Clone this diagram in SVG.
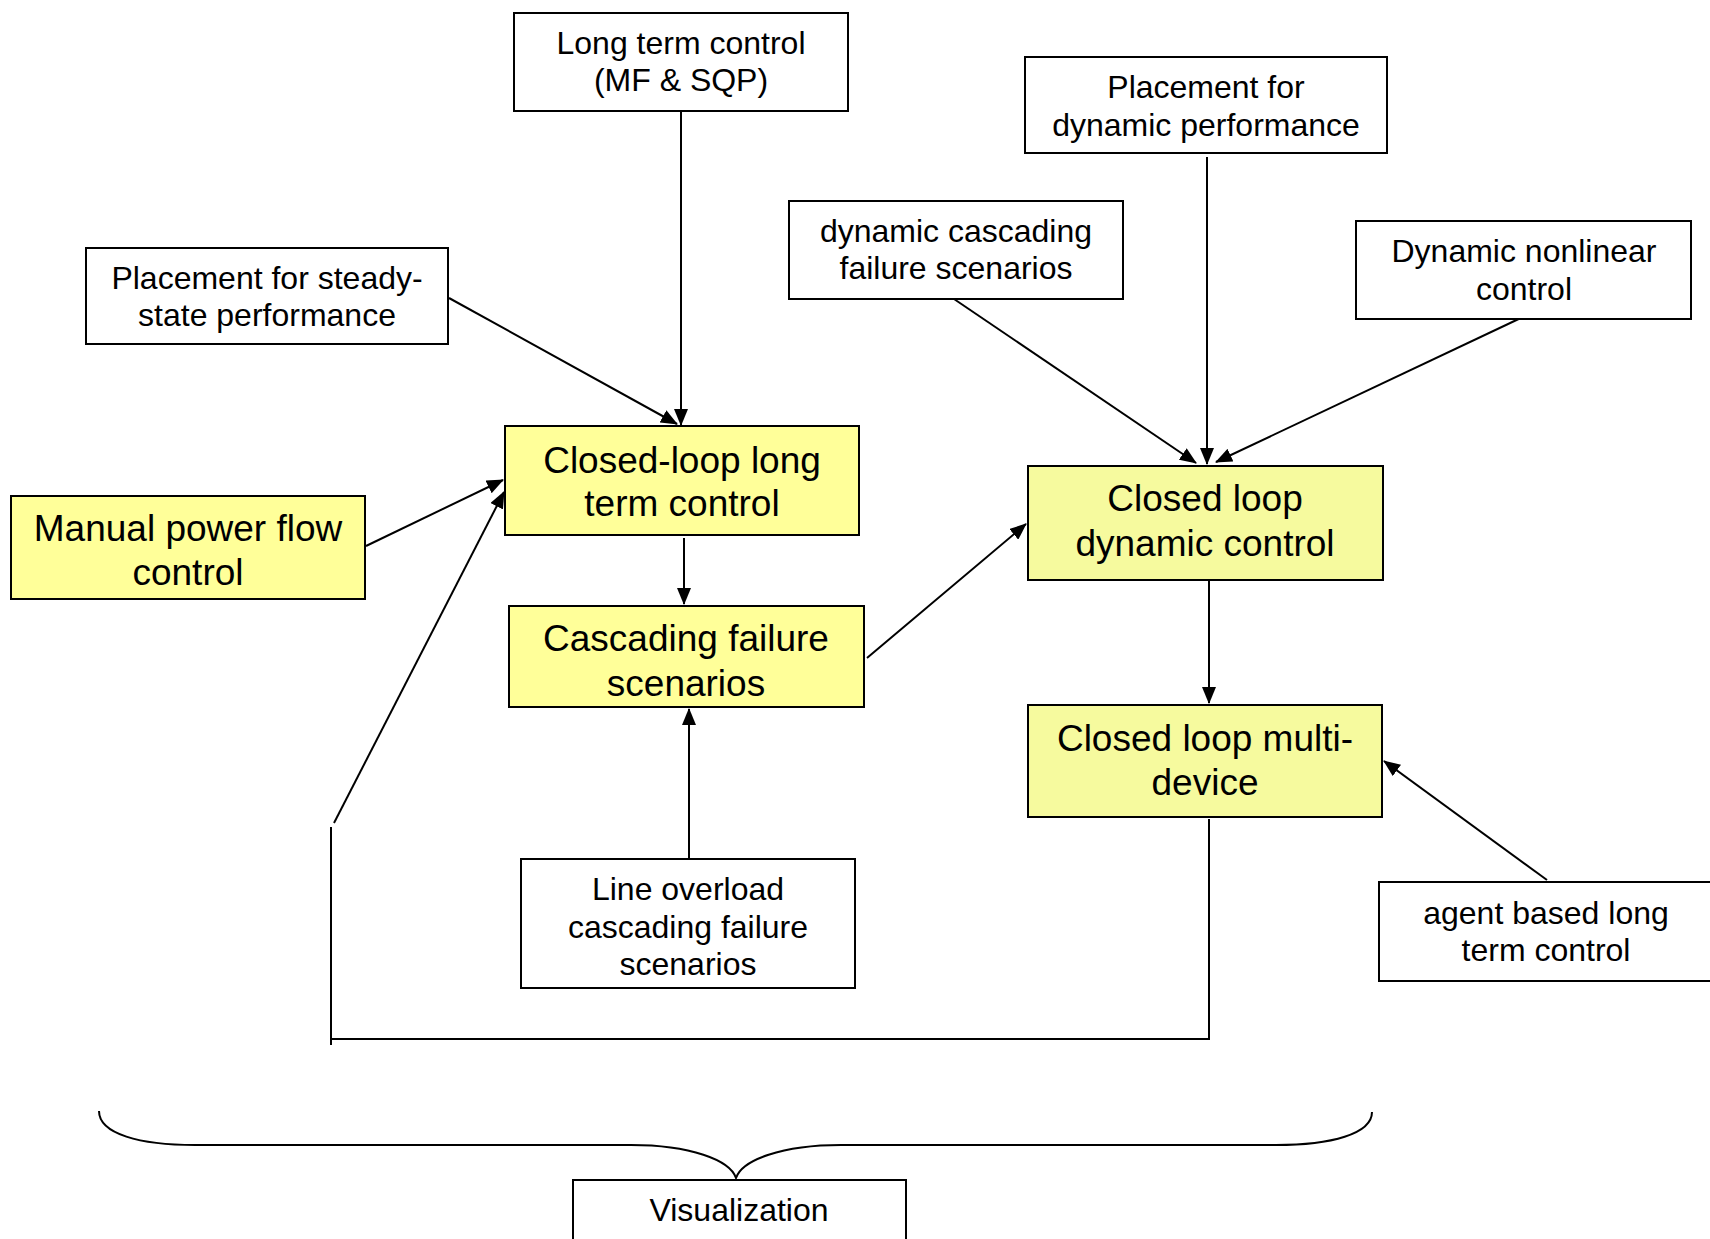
<svg xmlns="http://www.w3.org/2000/svg" width="1710" height="1239" viewBox="0 0 1710 1239">
<style>
.box{fill:#ffffff;stroke:#000;stroke-width:2}
.ybox{fill:#ffff99;stroke:#000;stroke-width:2}
.gbox{fill:#f6fa9e;stroke:#000;stroke-width:2}
.t{font-family:"Liberation Sans",Arial,sans-serif;font-size:32px;fill:#000;text-anchor:middle}
.ty{font-family:"Liberation Sans",Arial,sans-serif;font-size:37px;fill:#000;text-anchor:middle}
.c{stroke:#000;stroke-width:2;fill:none}
.a{stroke:#000;stroke-width:2;fill:none;marker-end:url(#ah)}
</style>
<defs>
<marker id="ah" markerUnits="userSpaceOnUse" markerWidth="18" markerHeight="14" refX="16" refY="7" orient="auto">
<path d="M0,0 L17,7 L0,14 z" fill="#000"/>
</marker>
</defs>
<rect width="1710" height="1239" fill="#fff"/>

<g id="connectors">
<line class="a" x1="681" y1="111" x2="681" y2="425"/>
<line class="a" x1="449" y1="298" x2="677" y2="424"/>
<line class="a" x1="366" y1="546" x2="503" y2="480"/>
<line class="a" x1="334" y1="823" x2="504" y2="492"/>
<line class="c" x1="331" y1="827" x2="331" y2="1045"/>
<line class="c" x1="331" y1="1039" x2="1209" y2="1039"/>
<line class="c" x1="1209" y1="819" x2="1209" y2="1040"/>
<line class="a" x1="684" y1="538" x2="684" y2="604"/>
<line class="a" x1="689" y1="858" x2="689" y2="709"/>
<line class="a" x1="867" y1="658" x2="1026" y2="524"/>
<line class="a" x1="1207" y1="157" x2="1207" y2="464"/>
<line class="a" x1="954" y1="299" x2="1196" y2="463"/>
<line class="a" x1="1525" y1="316" x2="1216" y2="462"/>
<line class="a" x1="1209" y1="581" x2="1209" y2="703"/>
<line class="a" x1="1547" y1="880" x2="1384" y2="761"/>
<path class="c" d="M99,1111 C99,1134 140,1145 195,1145 L631,1145 C690,1145 730,1160 736,1178 C742,1160 782,1145 841,1145 L1276,1145 C1331,1145 1372,1134 1372,1112"/>
</g>

<g id="long-term-control">
<rect class="box" x="514" y="13" width="334" height="98"/>
<text class="t" x="681" y="54">Long term control</text>
<text class="t" x="681" y="91">(MF &amp; SQP)</text>
</g>
<g id="placement-steady">
<rect class="box" x="86" y="248" width="362" height="96"/>
<text class="t" x="267" y="289">Placement for steady-</text>
<text class="t" x="267" y="326">state performance</text>
</g>
<g id="closed-loop-long">
<rect class="ybox" x="505" y="426" width="354" height="109"/>
<text class="ty" x="682" y="473">Closed-loop long</text>
<text class="ty" x="682" y="516">term control</text>
</g>
<g id="manual-power-flow">
<rect class="ybox" x="11" y="496" width="354" height="103"/>
<text class="ty" x="188" y="541">Manual power flow</text>
<text class="ty" x="188" y="585">control</text>
</g>
<g id="cascading-failure">
<rect class="ybox" x="509" y="606" width="355" height="101"/>
<text class="ty" x="686" y="651">Cascading failure</text>
<text class="ty" x="686" y="696">scenarios</text>
</g>
<g id="line-overload">
<rect class="box" x="521" y="859" width="334" height="129"/>
<text class="t" x="688" y="900">Line overload</text>
<text class="t" x="688" y="938">cascading failure</text>
<text class="t" x="688" y="975">scenarios</text>
</g>
<g id="placement-dynamic">
<rect class="box" x="1025" y="57" width="362" height="96"/>
<text class="t" x="1206" y="98">Placement for</text>
<text class="t" x="1206" y="136">dynamic performance</text>
</g>
<g id="dynamic-cascading">
<rect class="box" x="789" y="201" width="334" height="98"/>
<text class="t" x="956" y="242">dynamic cascading</text>
<text class="t" x="956" y="279">failure scenarios</text>
</g>
<g id="dynamic-nonlinear">
<rect class="box" x="1356" y="221" width="335" height="98"/>
<text class="t" x="1524" y="262">Dynamic nonlinear</text>
<text class="t" x="1524" y="300">control</text>
</g>
<g id="closed-loop-dynamic">
<rect class="gbox" x="1028" y="466" width="355" height="114"/>
<text class="ty" x="1205" y="511">Closed loop</text>
<text class="ty" x="1205" y="556">dynamic control</text>
</g>
<g id="closed-loop-multi-device">
<rect class="gbox" x="1028" y="705" width="354" height="112"/>
<text class="ty" x="1205" y="751">Closed loop multi-</text>
<text class="ty" x="1205" y="795">device</text>
</g>
<g id="agent-based">
<rect class="box" x="1379" y="882" width="336" height="99"/>
<text class="t" x="1546" y="924">agent based long</text>
<text class="t" x="1546" y="961">term control</text>
</g>
<g id="visualization">
<rect class="box" x="573" y="1180" width="333" height="80"/>
<text class="t" x="739" y="1221">Visualization</text>
</g>
</svg>
